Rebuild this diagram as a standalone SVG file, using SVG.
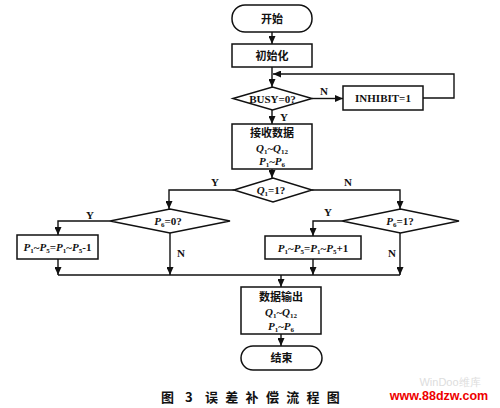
<svg xmlns="http://www.w3.org/2000/svg" width="500" height="408" viewBox="0 0 500 408">
<defs>
<marker id="ah" markerUnits="userSpaceOnUse" markerWidth="8" markerHeight="7" refX="8" refY="3.5" orient="auto">
<path d="M0,0 L8,3.5 L0,7 z" fill="#111"/>
</marker>
<style>
.shape{fill:#fff;stroke:#111;stroke-width:1.5}
.line{fill:none;stroke:#111;stroke-width:1.4}
.arr{marker-end:url(#ah)}
.cn{font-family:"Noto Sans CJK SC",sans-serif;font-weight:bold;font-size:11px;fill:#111;text-anchor:middle}
.en{font-family:"Liberation Serif",serif;font-weight:bold;font-size:11px;fill:#111;text-anchor:middle}
.it{font-style:italic}
.sub{font-size:7px}
.lbl{font-family:"Liberation Serif",serif;font-weight:bold;font-size:11px;fill:#111;text-anchor:middle}
.cap{font-family:"Noto Sans CJK SC",sans-serif;font-weight:bold;font-size:13px;fill:#111}
</style>
</defs>
<rect width="500" height="408" fill="#fff"/>

<g id="connectors">
<line class="line arr" x1="272" y1="32" x2="272" y2="44"/>
<line class="line arr" x1="272" y1="67" x2="272" y2="87"/>
<polyline class="line arr" points="423,98 454,98 454,74 273,74"/>
<line class="line arr" x1="312" y1="98.5" x2="343" y2="98.5"/>
<line class="line arr" x1="272" y1="110" x2="272" y2="124"/>
<line class="line arr" x1="272" y1="169" x2="272" y2="178"/>
<polyline class="line arr" points="234,190 169,190 169,209"/>
<polyline class="line arr" points="312,190 400,190 400,209"/>
<polyline class="line arr" points="110,221 58,221 58,235"/>
<line class="line arr" x1="58" y1="259" x2="58" y2="275"/>
<line class="line arr" x1="170" y1="233" x2="170" y2="275"/>
<polyline class="line arr" points="342,221 313,221 313,236"/>
<line class="line arr" x1="313" y1="259" x2="313" y2="275"/>
<line class="line arr" x1="400" y1="233" x2="400" y2="275"/>
<line class="line" x1="58" y1="275" x2="400" y2="275"/>
<line class="line arr" x1="281" y1="275" x2="281" y2="287"/>
<line class="line arr" x1="281" y1="334" x2="281" y2="346"/>
<text class="lbl" x="324" y="95">N</text>
<text class="lbl" x="284" y="121">Y</text>
<text class="lbl" x="215" y="186">Y</text>
<text class="lbl" x="348" y="186">N</text>
<text class="lbl" x="90" y="219">Y</text>
<text class="lbl" x="181" y="257">N</text>
<text class="lbl" x="328" y="216">Y</text>
<text class="lbl" x="392" y="257">N</text>
</g>

<g id="start">
<rect class="shape" x="232" y="5" width="80" height="27" rx="13"/>
<text class="cn" x="272" y="22.5">开始</text>
</g>
<g id="init">
<rect class="shape" x="232" y="44" width="80" height="23"/>
<text class="cn" x="272" y="59.5">初始化</text>
</g>
<g id="busy">
<polygon class="shape" points="233,98.5 272.5,87 312,98.5 272.5,110"/>
<text class="en" x="272.5" y="102.5">BUSY=0?</text>
</g>
<g id="inhibit">
<rect class="shape" x="343" y="86" width="80" height="24"/>
<text class="en" x="383" y="102">INHIBIT=1</text>
</g>
<g id="receive">
<rect class="shape" x="232" y="124" width="80" height="45"/>
<text class="cn" x="272" y="137">接收数据</text>
<text class="en" x="272" y="152"><tspan class="it">Q</tspan><tspan class="sub" dy="2">1</tspan><tspan dy="-2">~</tspan><tspan class="it">Q</tspan><tspan class="sub" dy="2">12</tspan></text>
<text class="en" x="272" y="165"><tspan class="it">P</tspan><tspan class="sub" dy="2">1</tspan><tspan dy="-2">~</tspan><tspan class="it">P</tspan><tspan class="sub" dy="2">6</tspan></text>
</g>
<g id="q1">
<polygon class="shape" points="234,190 273,178 312,190 273,202"/>
<text class="en" x="271" y="194"><tspan class="it">Q</tspan><tspan class="sub" dy="2">1</tspan><tspan dy="-2">=1?</tspan></text>
</g>
<g id="p6zero">
<polygon class="shape" points="110,221 170,209 230,221 170,233"/>
<text class="en" x="168" y="225"><tspan class="it">P</tspan><tspan class="sub" dy="2">6</tspan><tspan dy="-2">=0?</tspan></text>
</g>
<g id="dec">
<rect class="shape" x="17" y="235" width="81" height="24"/>
<text class="en" x="57.5" y="251"><tspan class="it">P</tspan><tspan class="sub" dy="2">1</tspan><tspan dy="-2">~</tspan><tspan class="it">P</tspan><tspan class="sub" dy="2">5</tspan><tspan dy="-2">=</tspan><tspan class="it">P</tspan><tspan class="sub" dy="2">1</tspan><tspan dy="-2">~</tspan><tspan class="it">P</tspan><tspan class="sub" dy="2">5</tspan><tspan dy="-2">-1</tspan></text>
</g>
<g id="p6one">
<polygon class="shape" points="342,221 400.5,209 459,221 400.5,233"/>
<text class="en" x="400" y="225"><tspan class="it">P</tspan><tspan class="sub" dy="2">6</tspan><tspan dy="-2">=1?</tspan></text>
</g>
<g id="inc">
<rect class="shape" x="265" y="236" width="96" height="23"/>
<text class="en" x="313" y="251.5"><tspan class="it">P</tspan><tspan class="sub" dy="2">1</tspan><tspan dy="-2">~</tspan><tspan class="it">P</tspan><tspan class="sub" dy="2">5</tspan><tspan dy="-2">=</tspan><tspan class="it">P</tspan><tspan class="sub" dy="2">1</tspan><tspan dy="-2">~</tspan><tspan class="it">P</tspan><tspan class="sub" dy="2">5</tspan><tspan dy="-2">+1</tspan></text>
</g>
<g id="output">
<rect class="shape" x="241" y="287" width="80" height="47"/>
<text class="cn" x="281" y="300.5">数据输出</text>
<text class="en" x="281" y="316"><tspan class="it">Q</tspan><tspan class="sub" dy="2">1</tspan><tspan dy="-2">~</tspan><tspan class="it">Q</tspan><tspan class="sub" dy="2">12</tspan></text>
<text class="en" x="281" y="330"><tspan class="it">P</tspan><tspan class="sub" dy="2">1</tspan><tspan dy="-2">~</tspan><tspan class="it">P</tspan><tspan class="sub" dy="2">6</tspan></text>
</g>
<g id="end">
<rect class="shape" x="241" y="346" width="81" height="24" rx="12"/>
<text class="cn" x="281.5" y="362">结束</text>
</g>

<text class="cap" x="161" y="402" word-spacing="8">图 3</text>
<text class="cap" x="205" y="402" letter-spacing="7.3">误差补偿流程图</text>
<text x="450" y="386" font-family="Liberation Sans,sans-serif" font-size="11" fill="#ddd" text-anchor="middle">WinDoo维库</text>
<text x="439" y="400" font-family="Liberation Sans,sans-serif" font-weight="bold" font-size="12.5" fill="#e00" text-anchor="middle">www.88dzw.com</text>
</svg>
